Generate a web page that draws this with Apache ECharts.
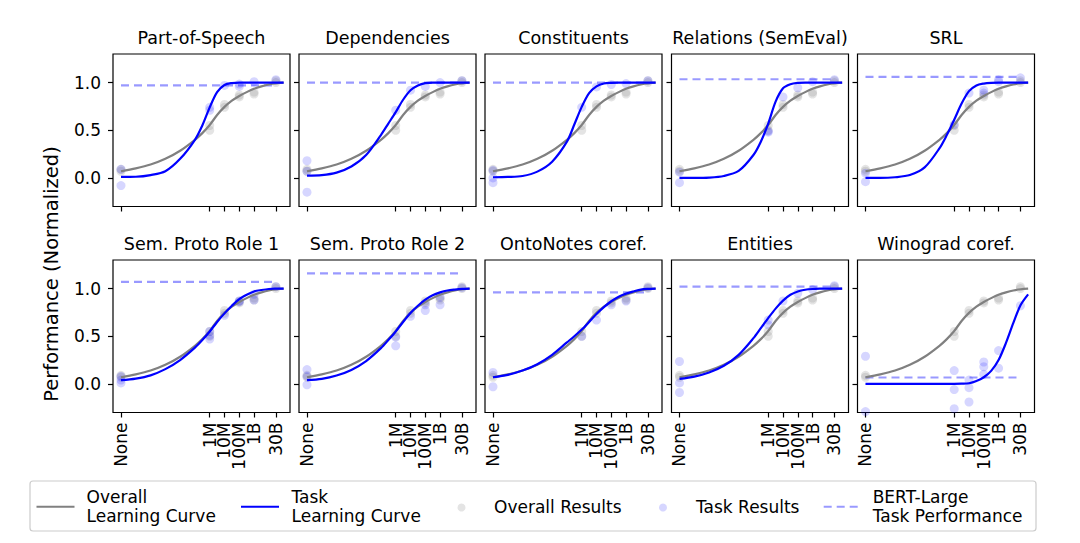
<!DOCTYPE html>
<html>
<head>
<meta charset="utf-8">
<script src="https://cdn.jsdelivr.net/npm/echarts@6/dist/echarts.min.js"></script>
<style>
  html, body { margin: 0; padding: 0; background: #fff; }
  #chart { width: 1080px; height: 543px; }
</style>
</head>
<body>
<div id="chart"></div>
<script>
// ---- data ----
const sizes = [1, 1e6, 1e7, 1e8, 1e9, 3e10];            // "None" drawn at 10^0
const tickLabels = ['None', '1M', '10M', '100M', '1B', '30B'];
const yTicks = [0, 0.5, 1.0];

const panelTitles = ['Part-of-Speech', 'Dependencies', 'Constituents', 'Relations (SemEval)', 'SRL',
  'Sem. Proto Role 1', 'Sem. Proto Role 2', 'OntoNotes coref.', 'Entities', 'Winograd coref.'];

// curve sample positions (log10 of pretraining words)
const curveX = [0, 1, 2, 3, 4, 5, 5.5, 6, 6.5, 7, 7.5, 8, 8.5, 9, 9.5, 10, 10.5, 11];

const overallCurve = [0.07, 0.10, 0.14, 0.20, 0.285, 0.40, 0.47, 0.555, 0.66, 0.745, 0.81, 0.86, 0.90, 0.935, 0.96, 0.98, 0.993, 1.0];

const posCurve  = [0.01, 0.012, 0.03, 0.07, 0.2, 0.4, 0.55, 0.74, 0.9, 0.975, 0.995, 1, 1, 1, 1, 1, 1, 1];
const depCurve  = [0.024, 0.03, 0.056, 0.12, 0.24, 0.45, 0.57, 0.69, 0.82, 0.92, 0.97, 0.995, 1, 1, 1, 1, 1, 1];
const conCurve  = [0.007, 0.01, 0.02, 0.066, 0.17, 0.38, 0.56, 0.745, 0.89, 0.96, 0.99, 0.997, 1, 1, 1, 1, 1, 1];
const relCurve  = [0, 0, 0.003, 0.02, 0.073, 0.24, 0.38, 0.57, 0.8, 0.94, 0.983, 0.997, 1, 1, 1, 1, 1, 1];
const srlCurve  = [0, 0, 0.007, 0.03, 0.11, 0.31, 0.45, 0.61, 0.78, 0.91, 0.97, 0.99, 0.998, 1, 1, 1, 1, 1];
const spr1Curve = [0.039, 0.056, 0.09, 0.155, 0.25, 0.38, 0.46, 0.55, 0.65, 0.74, 0.82, 0.89, 0.935, 0.97, 0.985, 0.996, 0.999, 1];
const spr2Curve = [0.039, 0.053, 0.088, 0.147, 0.24, 0.375, 0.46, 0.55, 0.65, 0.744, 0.82, 0.884, 0.93, 0.96, 0.98, 0.99, 0.997, 1];
const ontoCurve = [0.07, 0.095, 0.14, 0.207, 0.305, 0.435, 0.5, 0.57, 0.65, 0.733, 0.805, 0.867, 0.915, 0.947, 0.97, 0.99, 0.997, 1];
const entCurve  = [0.053, 0.077, 0.12, 0.19, 0.305, 0.48, 0.585, 0.69, 0.79, 0.874, 0.935, 0.97, 0.988, 0.996, 0.999, 1, 1, 1];
const winoCurve = [0, 0, 0, 0, 0, 0, 0, 0.001, 0.003, 0.007, 0.03, 0.07, 0.137, 0.25, 0.43, 0.64, 0.83, 0.94];

// results per size category (None, 1M, 10M, 100M, 1B, 30B)
const overallResults = [[0.07, 0.09], [0.5, 0.55], [0.74, 0.77], [0.85, 0.87], [0.88, 0.9], [1.0, 1.02]];

const posResults  = [[0.09, -0.08], [0.74, 0.71], [0.97], [0.985, 0.96], [1.01], [1.03]];
const depResults  = [[0.18, 0.07, -0.15], [0.71], [0.92], [0.96], [1.0], [1.02]];
const conResults  = [[0.08, 0.0, -0.05], [0.74], [0.955], [0.98], [0.99], [1.02]];
const relResults  = [[0.06, -0.05], [0.49, 0.48], [0.85], [0.945], [1.01], [1.03]];
const srlResults  = [[0.05, -0.04], [0.56], [0.89], [0.92, 0.89], [1.03, 1.01], [1.05]];
const spr1Results = [[0.08, 0.04, 0.01], [0.55, 0.51, 0.47], [0.72], [0.87, 0.86], [0.94, 0.88], [1.02]];
const spr2Results = [[0.15, 0.08, -0.01], [0.49, 0.40], [0.71], [0.83, 0.77], [0.91, 0.83], [1.01]];
const ontoResults = [[0.12, -0.03], [0.50], [0.67], [0.83], [0.87], [1.01]];
const entResults  = [[0.235, 0.01, -0.09], [0.67, 0.62], [0.87], [0.95], [0.99], [1.03]];
const winoResults = [[0.29, -0.29], [0.14, -0.06, -0.26], [0.04, -0.04, -0.19], [0.23, 0.18, 0.10], [0.35, 0.165], [0.82]];

const bertLarge = [0.97, 1.0, 1.0, 1.035, 1.06, 1.07, 1.16, 0.96, 1.02, 0.067];

const taskCurves = [posCurve, depCurve, conCurve, relCurve, srlCurve, spr1Curve, spr2Curve, ontoCurve, entCurve, winoCurve];
const taskResults = [posResults, depResults, conResults, relResults, srlResults, spr1Results, spr2Results, ontoResults, entResults, winoResults];

// ---- layout / style ----
const FONT = 'DejaVu Sans';
const colLeft = [113, 299, 485, 671.5, 857.5];
const rowTop = [54, 260];
const panelW = 177, panelH = 152.5;
const xPos = sizes.map(s => Math.log10(s));

const legendText = {
  'Overall Learning Curve': 'Overall\nLearning Curve',
  'Task Learning Curve': 'Task\nLearning Curve',
  'Overall Results': 'Overall Results',
  'Task Results': 'Task Results',
  'BERT-Large Task Performance': 'BERT-Large\nTask Performance'
};

function resultPoints(res) {
  const pts = [];
  res.forEach((vals, k) => vals.forEach(v => pts.push([xPos[k], v])));
  return pts;
}
function labelFor(v) {
  for (let k = 0; k < xPos.length; k++) if (Math.abs(xPos[k] - v) < 1e-6) return tickLabels[k];
  return '';
}

const grids = [], xAxes = [], yAxes = [], titles = [], series = [];
panelTitles.forEach((t, i) => {
  const col = i % 5, row = Math.floor(i / 5);
  grids.push({ left: colLeft[col], top: rowTop[row], width: panelW, height: panelH,
    show: true, borderColor: '#000', borderWidth: 1.2, backgroundColor: 'transparent' });
  xAxes.push({
    type: 'value', gridIndex: i, min: -0.54, max: 11.43, position: 'bottom',
    splitLine: { show: false }, axisLine: { show: false, onZero: false },
    axisTick: { show: true, length: 5, lineStyle: { color: '#000', width: 1.2 }, customValues: xPos },
    axisLabel: { show: row === 1, customValues: xPos, formatter: labelFor, rotate: 90,
      fontSize: 17, fontFamily: FONT, color: '#000', margin: 10 }
  });
  yAxes.push({
    type: 'value', gridIndex: i, min: -0.3, max: 1.3, position: 'left',
    splitLine: { show: false }, axisLine: { show: false, onZero: false },
    axisTick: { show: true, length: 5, lineStyle: { color: '#000', width: 1.2 }, customValues: yTicks },
    axisLabel: { show: col === 0, customValues: yTicks, formatter: v => v.toFixed(1),
      fontSize: 17, fontFamily: FONT, color: '#000', margin: 12 }
  });
  titles.push({ text: t, left: colLeft[col] + panelW / 2, top: row === 0 ? 29 : 235, textAlign: 'center', padding: 0,
    textStyle: { fontSize: 17.5, fontWeight: 'normal', fontFamily: FONT, color: '#000' } });

  series.push({ type: 'scatter', name: 'Overall Results', xAxisIndex: i, yAxisIndex: i,
    symbol: 'circle', symbolSize: 9, itemStyle: { color: 'rgba(128,128,128,0.27)' },
    data: resultPoints(overallResults), silent: true });
  series.push({ type: 'scatter', name: 'Task Results', xAxisIndex: i, yAxisIndex: i,
    symbol: 'circle', symbolSize: 9, itemStyle: { color: 'rgba(0,0,255,0.2)' },
    data: resultPoints(taskResults[i]), silent: true });
  series.push({ type: 'line', name: 'BERT-Large Task Performance', xAxisIndex: i, yAxisIndex: i,
    symbol: 'none', lineStyle: { color: 'rgba(0,0,255,0.4)', width: 2.2, type: [8, 5] },
    itemStyle: { color: 'rgba(0,0,255,0.4)' },
    data: [[xPos[0], bertLarge[i]], [xPos[xPos.length - 1], bertLarge[i]]], silent: true });
  series.push({ type: 'line', name: 'Overall Learning Curve', xAxisIndex: i, yAxisIndex: i,
    symbol: 'none', smooth: 0.3, lineStyle: { color: '#808080', width: 2.2 }, itemStyle: { color: '#808080' },
    data: curveX.map((x, j) => [x, overallCurve[j]]), silent: true });
  series.push({ type: 'line', name: 'Task Learning Curve', xAxisIndex: i, yAxisIndex: i,
    symbol: 'none', smooth: 0.3, lineStyle: { color: '#0000ff', width: 2.2 }, itemStyle: { color: '#0000ff' },
    data: curveX.map((x, j) => [x, taskCurves[i][j]]), silent: true });
});

function legendItem(name, left, top, w, pad, isLine) {
  const l = {
    data: [name], left: left, top: top, orient: 'horizontal', padding: 0,
    itemWidth: w, itemHeight: 8, selectedMode: false,
    formatter: n => legendText[n],
    textStyle: { fontSize: 17, fontFamily: FONT, color: '#000', lineHeight: 19.5, padding: [0, 0, 0, pad] }
  };
  if (isLine) l.itemStyle = { opacity: 0 };
  return l;
}

const option = {
  animation: false,
  backgroundColor: '#fff',
  title: titles,
  grid: grids,
  xAxis: xAxes,
  yAxis: yAxes,
  legend: [
    legendItem('Overall Learning Curve', 35.5, 487.2, 38, 7, true),
    legendItem('Task Learning Curve', 240, 487.2, 38, 7.5, true),
    legendItem('Overall Results', 457.5, 497.7, 38, 8.5, false),
    legendItem('Task Results', 659, 497.7, 38, 9, false),
    legendItem('BERT-Large Task Performance', 822.7, 487.2, 34.5, 9.5, true)
  ],
  graphic: [
    { type: 'rect', z: -10, shape: { x: 30, y: 481, width: 1006, height: 50, r: 3 },
      style: { fill: 'rgba(255,255,255,0.8)', stroke: '#cccccc', lineWidth: 1.2 } },
    { type: 'text', x: 51, y: 274, rotation: Math.PI / 2,
      style: { text: 'Performance (Normalized)', fontSize: 19.5, fontFamily: FONT, fill: '#000',
        align: 'center', verticalAlign: 'middle', textAlign: 'center', textVerticalAlign: 'middle' } }
  ],
  series: series
};

const chart = echarts.init(document.getElementById('chart'), null, { renderer: 'svg' });
chart.setOption(option);
</script>
</body>
</html>
